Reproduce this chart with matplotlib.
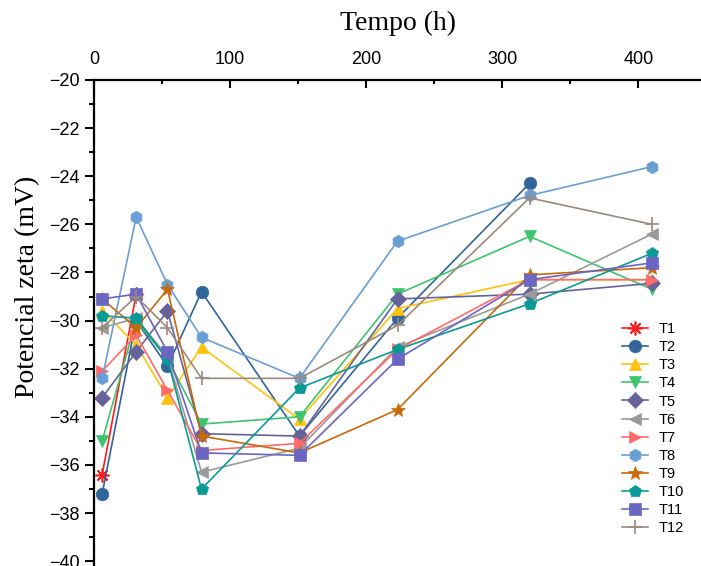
import matplotlib.pyplot as plt
from matplotlib.ticker import MultipleLocator

# tempos de medição (h)
tempos = [6, 31, 54, 79, 151, 223, 320, 410]

t1 = [-36.4, -28.9]
t2 = [-37.2, -30.0, -31.9, -28.8, -34.8, -29.9, -24.3]
t3 = [-29.6, -31.0, -33.2, -31.1, -34.1, -29.5, -28.3, -28.3]
t4 = [-35.0, -30.0, -31.6, -34.3, -34.0, -28.9, -26.5, -28.7]
t5 = [-33.2, -31.3, -29.6, -34.7, -34.8, -29.1, -28.9, -28.45]
t6 = [-30.3, -29.9, -31.5, -36.3, -35.3, -31.1, -28.9, -26.4]
t7 = [-32.1, -30.6, -32.9, -35.4, -35.1, -31.2, -28.3, -28.3]
t8 = [-32.4, -25.7, -28.5, -30.7, -32.4, -26.7, -24.8, -23.6]
t9 = [-29.1, -30.3, -28.7, -34.8, -35.5, -33.7, -28.1, -27.8]
t10 = [-29.8, -29.9, -31.6, -37.0, -32.8, -31.2, -29.3, -27.2]
t11 = [-29.1, -28.9, -31.3, -35.5, -35.6, -31.6, -28.3, -27.6]
t12 = [-30.3, -29.0, -30.3, -32.4, -32.4, -30.2, -24.9, -26.0]

nomes = ["T1", "T2", "T3", "T4", "T5", "T6", "T7", "T8", "T9", "T10", "T11", "T12"]
series = [t1, t2, t3, t4, t5, t6, t7, t8, t9, t10, t11, t12]
cores = ["#ff1a1a", "#30649a", "#ffc20e", "#3ec46d", "#66639a", "#9a9a9a",
         "#ff6b6b", "#6a9fd4", "#c8690a", "#0a9a96", "#6a66c2", "#9a8a80"]
marcadores = [(8, 2, 0), "o", "^", "v", "D", "<", ">", "h", "*", "p", "s", "+"]
tamanhos = [10, 9, 9, 9, 8, 9, 9, 9, 10, 9, 8, 10]

plt.rcParams["font.family"] = ["Liberation Sans", "DejaVu Sans"]

fig = plt.figure(figsize=(7.01, 5.66), dpi=100)
ax = fig.add_axes([94 / 701, 0.0, (701 - 94) / 701, (566 - 80) / 566])

for nome, y, cor, mk, ms in zip(nomes, series, cores, marcadores, tamanhos):
    ax.plot(tempos[:len(y)], y, color=cor, marker=mk, markersize=ms,
            linewidth=1.2, markeredgewidth=1.2 if mk in ("+", (8, 2, 0)) else 0.5,
            markeredgecolor=cor, label=nome)

ax.set_xlim(0, 446)
ax.set_ylim(-40.2, -20)
ax.xaxis.tick_top()
ax.xaxis.set_label_position("top")
ax.xaxis.set_major_locator(MultipleLocator(100))
ax.xaxis.set_minor_locator(MultipleLocator(50))
ax.yaxis.set_major_locator(MultipleLocator(2))
ax.yaxis.set_minor_locator(MultipleLocator(1))

ax.spines["bottom"].set_visible(False)
ax.spines["right"].set_visible(False)
ax.spines["top"].set_linewidth(1.6)
ax.spines["left"].set_linewidth(1.6)

ax.tick_params(axis="x", which="major", direction="in", length=6, width=1.5,
               labelsize=13, pad=9, top=True, bottom=False)
ax.tick_params(axis="x", which="minor", direction="in", length=3, width=1.5,
               top=True, bottom=False)
ax.tick_params(axis="y", which="major", direction="out", length=6.5, width=1.5,
               labelsize=13, pad=4)
ax.tick_params(axis="y", which="minor", direction="out", length=3.5, width=1.5)

ax.set_xlabel("Tempo (h)", fontsize=20, family="Liberation Serif", labelpad=15)
fig.text(28 / 701, 0.493, "Potencial zeta (mV)", rotation=90, fontsize=20,
         family="Liberation Serif", ha="center", va="center")

ax.legend(loc="upper left", bbox_to_anchor=(612 / 701, 1 - 312 / 566),
          bbox_transform=fig.transFigure, frameon=False, fontsize=10.5,
          handlelength=1.8, handletextpad=0.7, labelspacing=0.28,
          borderpad=0.2, markerscale=1.0)

fig.savefig("out.png", dpi=100)
